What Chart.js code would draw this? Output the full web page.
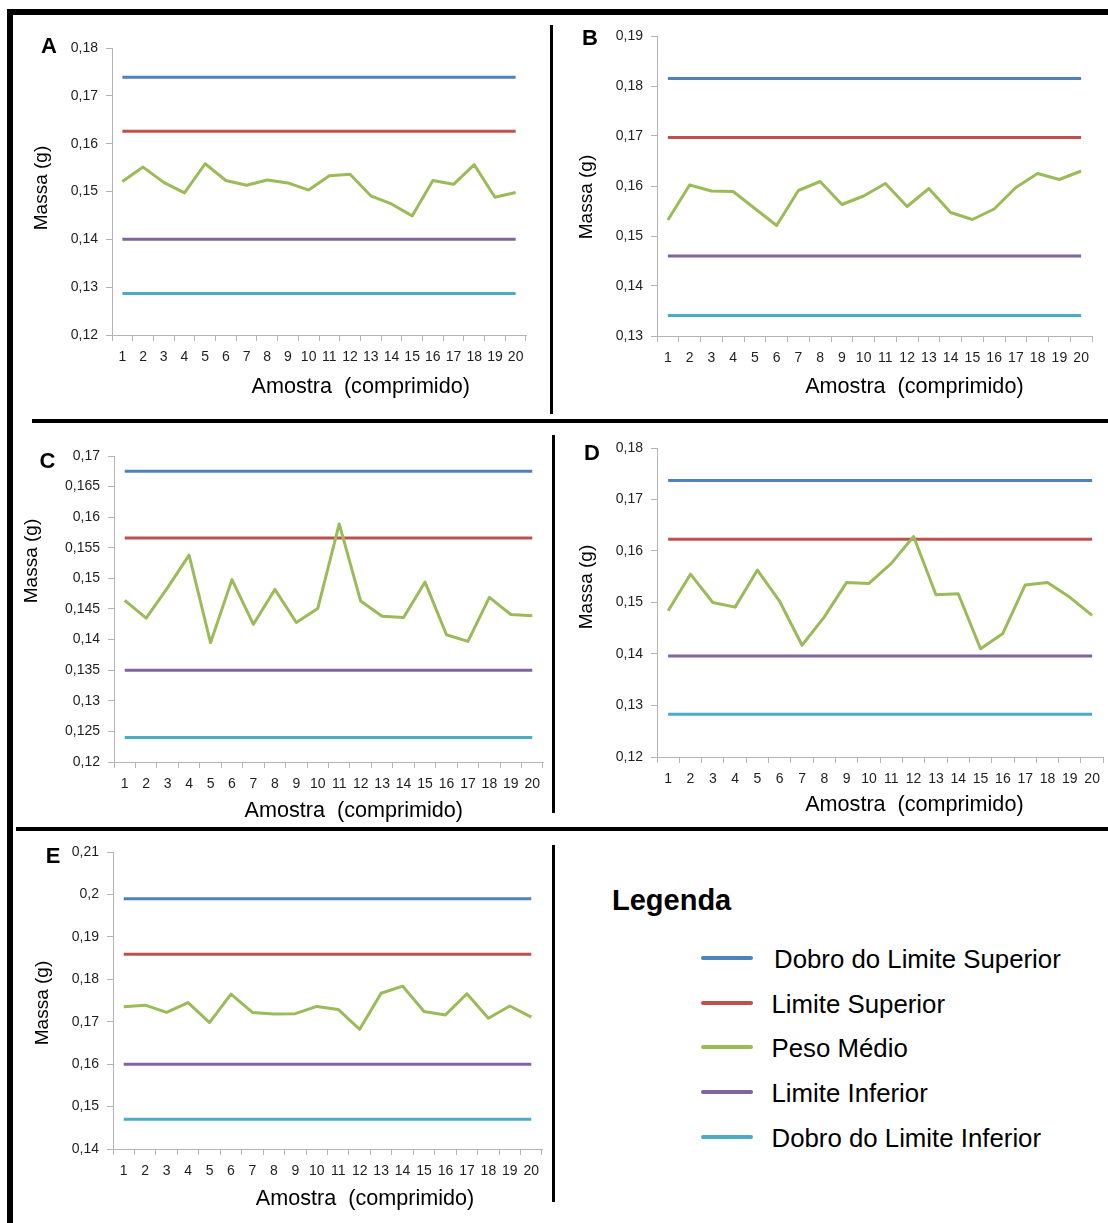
<!DOCTYPE html>
<html>
<head>
<meta charset="utf-8">
<script src="https://cdn.jsdelivr.net/npm/chart.js@4.4.1/dist/chart.umd.min.js"></script>
<style>
html,body{margin:0;padding:0;width:1108px;height:1223px;overflow:hidden;background:#fff;font-family:"Liberation Sans",Arial,sans-serif;color:#000;}
.bar{position:absolute;background:#000;}
.ytitle{position:absolute;font-size:19px;white-space:pre;transform:translate(-50%,-50%) rotate(-90deg);}
.xtitle{position:absolute;font-size:21.6px;white-space:pre;transform:translate(-50%,-50%);}
.letter{position:absolute;font-size:22px;font-weight:bold;transform:translate(-50%,-50%);}
.legtitle{position:absolute;font-size:29px;line-height:29px;font-weight:bold;white-space:pre;}
.legtext{position:absolute;font-size:25.8px;line-height:25px;white-space:pre;}
.legline{position:absolute;height:4px;border-radius:2px;}
canvas{position:absolute;}
</style>
</head>
<body>
<script>
// ---------- DATA ----------
const categories = ['1','2','3','4','5','6','7','8','9','10','11','12','13','14','15','16','17','18','19','20'];
const seriesNames = ['Dobro do Limite Superior','Limite Superior','Peso Médio','Limite Inferior','Dobro do Limite Inferior'];
const seriesColors = ['#4F81BD','#C0504D','#9BBB59','#8064A2','#4BACC6'];
const panelLetters = ['A','B','C','D','E'];
const xAxisTitle = 'Amostra  (comprimido)';
const yAxisTitle = 'Massa (g)';
const legendTitle = 'Legenda';

// Peso Médio (green) per panel
const pesoA = [0.1521,0.1551,0.1519,0.1497,0.1558,0.1523,0.1513,0.1524,0.1518,0.1503,0.1533,0.1536,0.1491,0.1474,0.1449,0.1523,0.1515,0.1556,0.1488,0.1498];
const pesoB = [0.1532,0.1602,0.1590,0.1589,0.1555,0.1521,0.1591,0.1609,0.1563,0.1580,0.1605,0.1559,0.1595,0.1547,0.1533,0.1554,0.1597,0.1625,0.1613,0.1630];
const pesoC = [0.1464,0.1435,0.1485,0.1538,0.1395,0.1498,0.1425,0.1482,0.1428,0.1451,0.1589,0.1463,0.1438,0.1436,0.1494,0.1408,0.1397,0.1469,0.1441,0.1439];
const pesoD = [0.1484,0.1555,0.1500,0.1491,0.1563,0.1502,0.1417,0.1472,0.1539,0.1537,0.1576,0.1628,0.1515,0.1517,0.1410,0.1440,0.1534,0.1539,0.1510,0.1475];
const pesoE = [0.1735,0.1739,0.1722,0.1745,0.1698,0.1765,0.1722,0.1718,0.1719,0.1736,0.1729,0.1682,0.1767,0.1784,0.1724,0.1716,0.1766,0.1708,0.1737,0.1711];

// Limits: [Dobro do Limite Superior, Limite Superior, Limite Inferior, Dobro do Limite Inferior]
const limitsA = [0.1739,0.1626,0.1400,0.1287];
const limitsB = [0.1815,0.1697,0.1460,0.1341];
const limitsC = [0.1675,0.1566,0.1350,0.1240];
const limitsD = [0.1737,0.1623,0.1396,0.1283];
const limitsE = [0.1990,0.1859,0.1600,0.1470];

// Y axis: [min, max, step]
const yAxisA = [0.12,0.18,0.01];
const yAxisB = [0.13,0.19,0.01];
const yAxisC = [0.12,0.17,0.005];
const yAxisD = [0.12,0.18,0.01];
const yAxisE = [0.14,0.21,0.01];

// ---------- LAYOUT ----------
const panels = [
  {peso:pesoA, limits:limitsA, yAxis:yAxisA, area:[112,48,526,335],  letter:[49,46],   ytitle:[40.5,187.5], xtitle:[360.7,386]},
  {peso:pesoB, limits:limitsB, yAxis:yAxisB, area:[657,36,1092,336], letter:[590,38],  ytitle:[585.5,196.7], xtitle:[914.4,385.5]},
  {peso:pesoC, limits:limitsC, yAxis:yAxisC, area:[114,456,543,762], letter:[47.5,460.5], ytitle:[31,561], xtitle:[353.8,810]},
  {peso:pesoD, limits:limitsD, yAxis:yAxisD, area:[657,448,1105,757], letter:[592,453], ytitle:[585.5,586.7], xtitle:[914.4,804]},
  {peso:pesoE, limits:limitsE, yAxis:yAxisE, area:[113,852,542,1149], letter:[53,856],  ytitle:[41.5,1003], xtitle:[365,1197.5]}
];

const FONT = '"Liberation Sans", Arial, sans-serif';
const AXIS_GRAY = '#b4b4b4';
const TICK_COLOR = '#1e1e1e';

function fmt(v){ return parseFloat(Number(v).toFixed(3)).toString().replace('.', ','); }

function addEl(cls, text, styles){
  const d = document.createElement('div');
  d.className = cls;
  if (text !== null) d.textContent = text;
  Object.assign(d.style, styles);
  document.body.appendChild(d);
  return d;
}

// frame
[
  [7,9,1101,6],      // top
  [7,9,6,1214],      // left
  [32,419,1076,4],   // divider 1
  [16,827,1092,4],   // divider 2
  [550,25,3,389],    // v row 1
  [552,435,3,378],   // v row 2
  [552,845,3,357]    // v row 3
].forEach(([x,y,w,h]) => addEl('bar', null, {left:x+'px', top:y+'px', width:w+'px', height:h+'px'}));

panels.forEach((p, idx) => {
  const [l,t,r,b] = p.area;
  const padL = 75, padT = 20, padB = 45;
  const padR = Math.min(15, 1108 - r);
  const canvas = document.createElement('canvas');
  canvas.width = r - l + padL + padR;
  canvas.height = b - t + padT + padB;
  canvas.style.left = (l - padL) + 'px';
  canvas.style.top = (t - padT) + 'px';
  canvas.style.width = canvas.width + 'px';
  canvas.style.height = canvas.height + 'px';
  document.body.appendChild(canvas);

  const limitMap = [0,1,null,2,3];
  const datasets = seriesNames.map((name, i) => {
    let data;
    if (i === 2) data = p.peso;
    else {
      const v = p.limits[limitMap[i]];
      data = [{x:categories[0], y:v}, {x:categories[categories.length-1], y:v}];
    }
    return {
      label:name, data, borderColor:seriesColors[i], backgroundColor:seriesColors[i],
      borderWidth:3, pointRadius:0, pointHoverRadius:0, tension:0, fill:false,
      order: i === 2 ? 0 : 1, borderJoinStyle:'round', borderCapStyle:'butt'
    };
  });

  new Chart(canvas, {
    type:'line',
    data:{labels:categories, datasets},
    options:{
      responsive:false, animation:false, devicePixelRatio:1,
      layout:{padding:{left:0, top:padT, right:padR, bottom:0}},
      plugins:{legend:{display:false}, tooltip:{enabled:false}, title:{display:false}},
      scales:{
        x:{
          type:'category', offset:true,
          grid:{offset:true, drawOnChartArea:false, drawTicks:true, tickLength:6, color:AXIS_GRAY, lineWidth:1},
          border:{display:true, color:AXIS_GRAY, width:1},
          ticks:{autoSkip:false, maxRotation:0, minRotation:0, padding:8, color:TICK_COLOR, font:{family:FONT, size:14}},
          afterFit(s){ s.height = padB; }
        },
        y:{
          type:'linear', min:p.yAxis[0], max:p.yAxis[1],
          grid:{drawOnChartArea:false, drawTicks:true, tickLength:6, color:AXIS_GRAY, lineWidth:1},
          border:{display:true, color:AXIS_GRAY, width:1},
          ticks:{stepSize:p.yAxis[2], padding:8, color:TICK_COLOR, font:{family:FONT, size:14}, callback:(v)=>fmt(v)},
          afterFit(s){ s.width = padL; }
        }
      }
    }
  });

  addEl('letter', panelLetters[idx], {left:p.letter[0]+'px', top:p.letter[1]+'px'});
  addEl('ytitle', yAxisTitle, {left:p.ytitle[0]+'px', top:p.ytitle[1]+'px'});
  addEl('xtitle', xAxisTitle, {left:p.xtitle[0]+'px', top:p.xtitle[1]+'px'});
});

// legend panel
addEl('legtitle', legendTitle, {left:'612px', top:'886px'});
const legendY = [958,1003,1047,1092,1137];
seriesNames.forEach((name, i) => {
  addEl('legline', null, {left:'701px', width:'52px', top:(legendY[i]-2)+'px', background:seriesColors[i]});
  addEl('legtext', name, {left:(i === 0 ? 774 : 771.5)+'px', top:(legendY[i] + 1.5 - 12.5)+'px'});
});
</script>
</body>
</html>
